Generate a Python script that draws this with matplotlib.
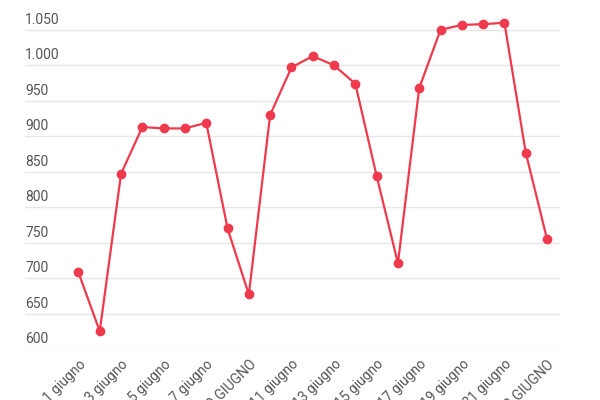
import matplotlib
matplotlib.use("Agg")
import matplotlib.pyplot as plt
from matplotlib.transforms import blended_transform_factory

plt.rcParams['font.family'] = ['Roboto', 'DejaVu Sans']

days = list(range(1, 24))
values = [708, 625, 847, 913, 911, 911, 919, 770, 677, 930, 997, 1013, 1000, 974,
          844, 721, 968, 1050, 1057, 1058, 1060, 877, 755]
tick_labels = ["1 giugno", "3 giugno", "5 giugno", "7 giugno", "9 GIUGNO", "11 giugno",
               "13 giugno", "15 giugno", "17 giugno", "19 giugno", "21 giugno", "23 GIUGNO"]
y_ticks = [600, 650, 700, 750, 800, 850, 900, 950, 1000, 1050]
y_labels = ["600", "650", "700", "750", "800", "850", "900", "950", "1.000", "1.050"]

fig = plt.figure(figsize=(6, 4), dpi=100)
ax = fig.add_axes([0.042, 0.1275, 0.891, 0.8475])
xs = list(range(len(values)))
ax.plot(xs, values, color='#ee3a4c', lw=1.6, marker='o', ms=6, zorder=3)
ax.set_xlim(-2.5, 22.6)
ax.set_ylim(600, 1078)
for s in ax.spines.values():
    s.set_visible(False)
ax.set_yticks(y_ticks)
ax.yaxis.grid(True, color='#e6e6e6', lw=1)
ax.tick_params(axis='y', length=0, labelleft=False)
tr = blended_transform_factory(ax.transAxes, ax.transData)
for v, l in zip(y_ticks, y_labels):
    ax.text(0.0, v + 4, l, transform=tr, ha='left', va='bottom', fontsize=10, color='#555555')
ax.set_xticks(xs[::2])
ax.set_xticklabels(tick_labels, rotation=45, ha='right', rotation_mode='anchor',
                   fontsize=10, color='#555555')
ax.tick_params(axis='x', length=0, pad=6)
ax.set_axisbelow(True)
fig.savefig("out.png", dpi=100)
